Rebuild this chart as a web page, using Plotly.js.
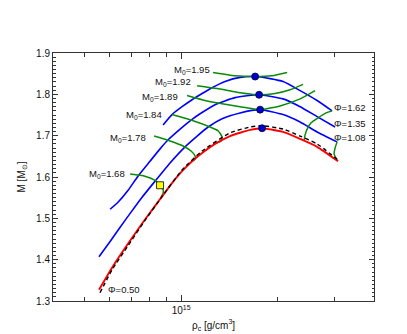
<!DOCTYPE html>
<html>
<head>
<meta charset="utf-8">
<script src="https://cdn.plot.ly/plotly-3.0.1.min.js"></script>
<style>html,body{margin:0;padding:0;background:#fff;}#plot{width:407px;height:334px;}</style>
</head>
<body>
<div id="plot"></div>
<script>
// central density rho_c [g/cm^3] and gravitational mass M [Msun]
const phi050_rho = [0.555e15,0.610e15,0.684e15,0.772e15,0.873e15,0.937e15,1.007e15,1.082e15,1.163e15,1.276e15,1.421e15,1.641e15,1.788e15,2.079e15,2.349e15,2.653e15,3.084e15];
const phi050_M   = [1.327,1.381,1.439,1.497,1.553,1.585,1.614,1.638,1.658,1.680,1.699,1.714,1.718,1.709,1.692,1.673,1.638];

const ref_rho = [0.559e15,0.610e15,0.684e15,0.772e15,0.873e15,1.007e15,1.163e15,1.421e15,1.641e15,1.788e15,2.079e15,2.349e15,2.653e15,3.062e15];
const ref_M   = [1.320,1.376,1.434,1.495,1.553,1.617,1.663,1.707,1.721,1.724,1.716,1.699,1.680,1.643];

const phi108_rho = [0.555e15,0.601e15,0.645e15,0.694e15,0.756e15,0.830e15,0.924e15,1.029e15,1.122e15,1.214e15,1.342e15,1.527e15,1.763e15,2.079e15,2.349e15,2.653e15,3.062e15];
const phi108_M   = [1.407,1.444,1.478,1.512,1.551,1.590,1.634,1.673,1.699,1.721,1.741,1.755,1.763,1.751,1.733,1.709,1.685];

const phi135_rho = [0.601e15,0.636e15,0.684e15,0.734e15,0.800e15,0.860e15,0.911e15,0.993e15,1.067e15,1.146e15,1.276e15,1.473e15,1.750e15,2.079e15,2.349e15,2.653e15,3.018e15];
const phi135_M   = [1.522,1.539,1.568,1.602,1.638,1.668,1.690,1.716,1.736,1.753,1.775,1.792,1.799,1.789,1.770,1.746,1.721];

const phi162_rho = [0.879e15,0.937e15,1.007e15,1.082e15,1.163e15,1.249e15,1.371e15,1.527e15,1.701e15,1.894e15,2.079e15,2.349e15,2.653e15,2.954e15];
const phi162_M   = [1.726,1.751,1.770,1.787,1.802,1.816,1.831,1.841,1.843,1.838,1.831,1.809,1.785,1.760];

// constant baryon mass sequences
const m195_rho = [1.258e15,1.473e15,1.701e15,1.921e15,2.139e15];
const m195_M   = [1.853,1.845,1.843,1.845,1.853];
const m192_rho = [1.122e15,1.295e15,1.527e15,1.750e15,1.963e15,2.186e15,2.399e15];
const m192_M   = [1.821,1.814,1.804,1.799,1.802,1.811,1.824];
const m189_rho = [1.044e15,1.188e15,1.342e15,1.527e15,1.763e15,2.034e15,2.349e15,2.615e15];
const m189_M   = [1.797,1.785,1.777,1.770,1.763,1.772,1.789,1.809];
const m184_rho = [0.937e15,1.090e15,1.231e15,1.304e15,1.342e15,1.332e15,1.285e15];
const m184_M   = [1.751,1.736,1.721,1.712,1.697,1.687,1.682];
const m178_rho = [0.824e15,0.924e15,1.014e15,1.074e15,1.106e15,1.106e15,1.082e15];
const m178_M   = [1.699,1.687,1.675,1.663,1.651,1.643,1.638];
const m168_rho = [0.694e15,0.772e15,0.830e15,0.860e15,0.879e15,0.879e15,0.866e15];
const m168_M   = [1.607,1.602,1.592,1.580,1.570,1.561,1.551];
const edgeA_rho = [2.416e15,2.434e15,2.470e15,2.541e15,2.672e15,2.829e15,2.954e15];
const edgeA_M   = [1.687,1.702,1.716,1.731,1.743,1.755,1.760];
const edgeB_rho = [3.062e15,2.997e15,3.018e15,3.062e15];
const edgeB_M   = [1.641,1.656,1.670,1.685];

// maxima and marked model
const max_rho = [1.701e15,1.750e15,1.763e15,1.788e15];
const max_M   = [1.843,1.799,1.763,1.718];
const sq_rho = [0.860e15];
const sq_M   = [1.580];

const M0_labels = ["M<sub>0</sub>=1.95","M<sub>0</sub>=1.92","M<sub>0</sub>=1.89","M<sub>0</sub>=1.84","M<sub>0</sub>=1.78","M<sub>0</sub>=1.68"];
const Phi_labels = ["Φ=1.62","Φ=1.35","Φ=1.08","Φ=0.50"];
const xMajorVals = [1e15];
const xMajorText = ["10<sup>15</sup>"];
const xMinorVals = [5e14,6e14,7e14,8e14,9e14,2e15,3e15];

const BLUE = '#0000ff', GREEN = '#0b8a0b', RED = '#ff0000';
function line(x, y, color, width, dash) {
  return {x: x, y: y, type: 'scatter', mode: 'lines', hoverinfo: 'skip',
          line: {color: color, width: width, dash: dash || 'solid', shape: 'spline', smoothing: 0.5}};
}
const traces = [
  line(phi108_rho, phi108_M, BLUE, 1.6),
  line(phi135_rho, phi135_M, BLUE, 1.6),
  line(phi162_rho, phi162_M, BLUE, 1.6),
  line(m195_rho, m195_M, GREEN, 1.5),
  line(m192_rho, m192_M, GREEN, 1.5),
  line(m189_rho, m189_M, GREEN, 1.5),
  line(m184_rho, m184_M, GREEN, 1.5),
  line(m178_rho, m178_M, GREEN, 1.5),
  line(m168_rho, m168_M, GREEN, 1.5),
  line(edgeA_rho, edgeA_M, GREEN, 1.5),
  line(edgeB_rho, edgeB_M, GREEN, 1.5),
  line(phi050_rho, phi050_M, RED, 1.9),
  line(ref_rho, ref_M, '#000000', 1.4, '4px,3px'),
  {x: max_rho, y: max_M, type: 'scatter', mode: 'markers', hoverinfo: 'skip',
   marker: {color: '#0000cc', size: 7, line: {color: '#000033', width: 0.8}}},
  {x: sq_rho, y: sq_M, type: 'scatter', mode: 'markers', hoverinfo: 'skip',
   marker: {symbol: 'square', color: '#ffff00', size: 7, line: {color: '#000000', width: 0.8}}}
];

const F = {family: 'Liberation Sans, Arial, Helvetica, sans-serif', size: 10, color: '#111'};
const FA = {family: 'Liberation Sans, Arial, Helvetica, sans-serif', size: 9.5, color: '#111'};
const m0Pos = [[0.495,0.931],[0.436,0.883],[0.396,0.823],[0.346,0.750],[0.296,0.657],[0.231,0.512]];
const phiPos = [[0.869,0.782],[0.869,0.714],[0.869,0.661],[0.165,0.048]];
const annotations = [];
M0_labels.forEach((t,i) => annotations.push({text: t, xref: 'paper', yref: 'paper', x: m0Pos[i][0], y: m0Pos[i][1],
  xanchor: 'right', yanchor: 'middle', showarrow: false, font: FA}));
Phi_labels.forEach((t,i) => annotations.push({text: t, xref: 'paper', yref: 'paper', x: phiPos[i][0], y: phiPos[i][1],
  xanchor: 'left', yanchor: 'middle', showarrow: false, font: FA}));

const layout = {
  width: 407, height: 334,
  margin: {l: 53, r: 33, t: 53, b: 33, pad: 0},
  paper_bgcolor: '#fff', plot_bgcolor: '#fff',
  showlegend: false,
  font: F,
  xaxis: {type: 'log', range: [14.601, 15.601], tickmode: 'array', tickvals: xMajorVals, ticktext: xMajorText,
          ticks: 'inside', ticklen: 6, tickwidth: 1, tickcolor: '#333', mirror: 'ticks', showline: true,
          linecolor: '#333', linewidth: 1, showgrid: false, zeroline: false, tickfont: F,
          minor: {tickmode: 'array', tickvals: xMinorVals, ticks: 'inside', ticklen: 4, tickcolor: '#333', showgrid: false},
          title: {text: 'ρ<sub>c</sub> [g/cm<sup>3</sup>]', font: F, standoff: 6}},
  yaxis: {range: [1.3, 1.9], dtick: 0.1, tick0: 1.3, ticks: 'inside', ticklen: 5, tickwidth: 1, tickcolor: '#333',
          mirror: 'ticks', showline: true, linecolor: '#333', linewidth: 1, showgrid: false, zeroline: false,
          tickfont: F, minor: {dtick: 0.01, ticks: 'inside', ticklen: 2.5, tickcolor: '#333', showgrid: false},
          title: {text: 'M [M<sub>⊙</sub>]', font: F, standoff: 8}},
  annotations: annotations
};
Plotly.newPlot('plot', traces, layout, {staticPlot: true, displayModeBar: false});
</script>
</body>
</html>
